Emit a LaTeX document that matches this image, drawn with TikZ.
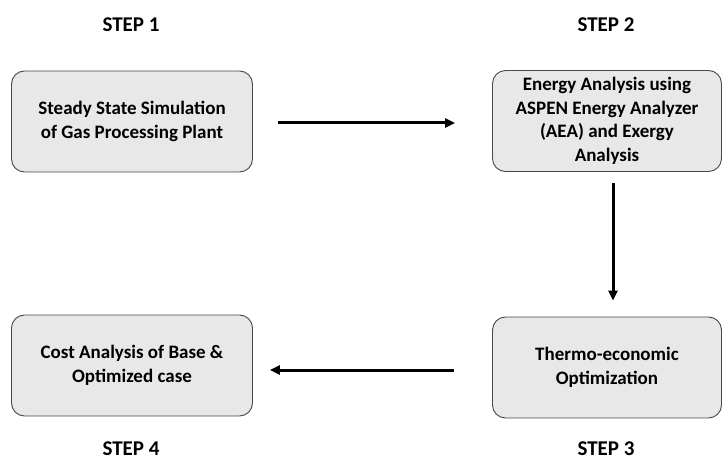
\documentclass[tikz,border=0pt]{standalone}
\usepackage{fontspec}
\setmainfont{Carlito}
\usetikzlibrary{arrows.meta}
\tikzset{
	stepbox/.style={draw=black!72, fill=black!9, line width=0.9pt, rounded corners=13pt, align=center,
		minimum height=101pt, inner sep=0pt, font=\bfseries\fontsize{19}{23.5}\selectfont},
	steplabel/.style={font=\bfseries\fontsize{21}{25}\selectfont},
	flow/.style={-{Triangle[length=10pt,width=9pt]}, line width=3pt}
}
\begin{document}
\begin{tikzpicture}[x=1pt,y=-1pt]
		\useasboundingbox (0,0) rectangle (723,465);
		%\draw[red] (0,0) rectangle (723,465);
		\node[steplabel] (step1) at (131,25) {STEP 1};
		\node[steplabel] (step2) at (606,25) {STEP 2};
		\node[steplabel] (step3) at (606,449) {STEP 3};
		\node[steplabel] (step4) at (131,449) {STEP 4};
		
		\node[stepbox, minimum width=241pt] (s1) at (132,121.5) {Steady State Simulation\\of Gas Processing Plant};
		\node[stepbox, minimum width=229pt] (s2) at (607,121) {Energy Analysis using\\ASPEN Energy Analyzer\\(AEA) and Exergy\\Analysis};
		\node[stepbox, minimum width=229pt] (s3) at (607,367.5) {Thermo-economic\\Optimization};
		\node[stepbox, minimum width=241pt] (s4) at (132,365.5) {Cost Analysis of Base \&\\Optimized case};
		
		\draw[flow, shorten <=25pt, shorten >=37pt] ([yshift=-1.5pt]s1.east) -- ([yshift=-1.5pt]s1.east -| s2.west);
		\draw[flow, shorten <=11pt, shorten >=16pt] ([xshift=6pt]s2.south) -- ([xshift=6pt]s3.north);
		\draw[flow, shorten <=38pt, shorten >=17pt] ([yshift=-2.5pt]s3.west) -- ([yshift=-2.5pt]s3.west -| s4.east);
	\end{tikzpicture}
\end{document}
